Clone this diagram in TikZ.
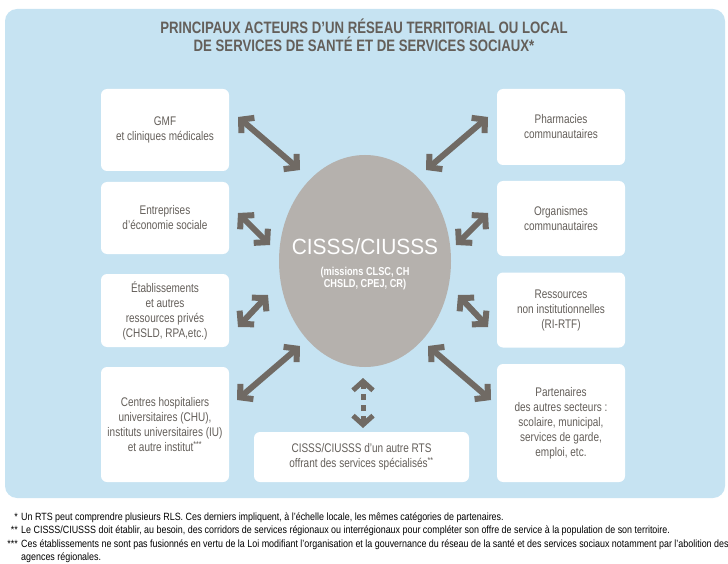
\documentclass[tikz,border=0pt]{standalone}
\usepackage{fontspec}
\setmainfont{Liberation Sans}[FakeStretch=0.8]
\newfontfamily\ctrfont{Liberation Sans}[FakeStretch=0.95]
\newfontfamily\notefont{Liberation Sans}[FakeStretch=0.85]
\usetikzlibrary{shapes.geometric,arrows.meta}
\definecolor{panelblue}{RGB}{198,227,242}
\definecolor{ellgray}{RGB}{181,177,173}
\definecolor{arrowgray}{RGB}{112,106,100}
\definecolor{textgray}{RGB}{100,95,90}
\tikzset{
    actor/.style={fill=white, rounded corners=6pt, minimum width=128pt, align=center, text=textgray, font=\fontsize{12.5}{15}\selectfont, inner sep=0pt},
    link/.style={draw=arrowgray, line width=6pt, {Straight Barb[sharp,length=9pt,width=20pt]}-{Straight Barb[sharp,length=9pt,width=20pt]}},
    note/.style={anchor=base west, font=\notefont\fontsize{10.5}{12}\selectfont, inner sep=0pt},
    notemark/.style={anchor=base east, font=\notefont\fontsize{10.5}{12}\selectfont, inner sep=0pt}
}
\begin{document}
\begin{tikzpicture}[x=1pt, y=-1pt]
        \useasboundingbox (0,0) rectangle (728,564);
        \fill[panelblue, rounded corners=12pt] (5,9) rectangle (725,498);
        \node[align=center, text=textgray, font=\bfseries\fontsize{16.5}{18}\selectfont] (title) at (364,35) {PRINCIPAUX ACTEURS D’UN RÉSEAU TERRITORIAL OU LOCAL\\DE SERVICES DE SANTÉ ET DE SERVICES SOCIAUX*};
        \node[ellipse, fill=ellgray, minimum width=172pt, minimum height=212pt] (cisss) at (365,261) {};
        \node[text=white, font=\ctrfont\fontsize{22}{26}\selectfont] (cisss-name) at (365,247) {CISSS/CIUSSS};
        \node[text=white, align=center, font=\bfseries\fontsize{11.5}{12}\selectfont] (cisss-sub) at (365,279) {(missions CLSC, CH\\CHSLD, CPEJ, CR)};
        \node[actor, minimum height=82pt] (gmf) at (165,130) {GMF\\et cliniques médicales};
        \node[actor, minimum height=72pt] (entr) at (165,218) {Entreprises\\d’économie sociale};
        \node[actor, minimum height=73pt] (etab) at (165,310.5) {Établissements\\et autres\\ressources privés\\(CHSLD, RPA,etc.)};
        \node[actor, minimum height=115pt] (chu) at (165,424.5) {Centres hospitaliers\\universitaires (CHU),\\instituts universitaires (IU)\\et autre institut\textsuperscript{***}};
        \node[actor, minimum height=76pt] (pharm) at (561,127) {Pharmacies\\communautaires};
        \node[actor, minimum height=75pt] (orga) at (561,218.5) {Organismes\\communautaires};
        \node[actor, minimum height=75pt] (ress) at (561,310) {Ressources\\non institutionnelles\\(RI-RTF)};
        \node[actor, minimum height=118pt] (part) at (561,423) {Partenaires\\des autres secteurs :\\scolaire, municipal,\\services de garde,\\emploi, etc.};
        \node[actor, minimum width=215pt, minimum height=50pt] (autre) at (361.5,457) {CISSS/CIUSSS d’un autre RTS\\offrant des services spécialisés\textsuperscript{**}};
        \coordinate (gmf-a) at (238,117);   \coordinate (gmf-b) at (300,170);
        \coordinate (pharm-a) at (488,117); \coordinate (pharm-b) at (426,170);
        \coordinate (entr-a) at (238,213);  \coordinate (entr-b) at (270,245);
        \coordinate (orga-a) at (488,213);  \coordinate (orga-b) at (456,245);
        \coordinate (etab-a) at (238,327);  \coordinate (etab-b) at (268,295);
        \coordinate (ress-a) at (488,327);  \coordinate (ress-b) at (458,295);
        \coordinate (chu-a) at (237,400);   \coordinate (chu-b) at (300,346);
        \coordinate (part-a) at (491,400);  \coordinate (part-b) at (428,346);
        \coordinate (autre-a) at (363,428); \coordinate (autre-b) at (363,378);
        \foreach \n in {gmf,pharm,entr,orga,etab,ress,chu,part}
            \draw[link] (\n-a) -- (\n-b);
        \draw[link, line width=5pt, dash pattern=on 6pt off 5pt] (autre-a) -- (autre-b);
        \node[notemark] (m1) at (18,520) {*};
        \node[note] (n1) at (21,520) {Un RTS peut comprendre plusieurs RLS. Ces derniers impliquent, à l’échelle locale, les mêmes catégories de partenaires.};
        \node[notemark] (m2) at (18,533) {**};
        \node[note] (n2) at (21,533) {Le CISSS/CIUSSS doit établir, au besoin, des corridors de services régionaux ou interrégionaux pour compléter son offre de service à la population de son territoire.};
        \node[notemark] (m3) at (18,547) {***};
        \node[note] (n3) at (21,547) {Ces établissements ne sont pas fusionnés en vertu de la Loi modifiant l’organisation et la gouvernance du réseau de la santé et des services sociaux notamment par l’abolition des};
        \node[note] (n4) at (21,560) {agences régionales.};
\end{tikzpicture}
\end{document}
